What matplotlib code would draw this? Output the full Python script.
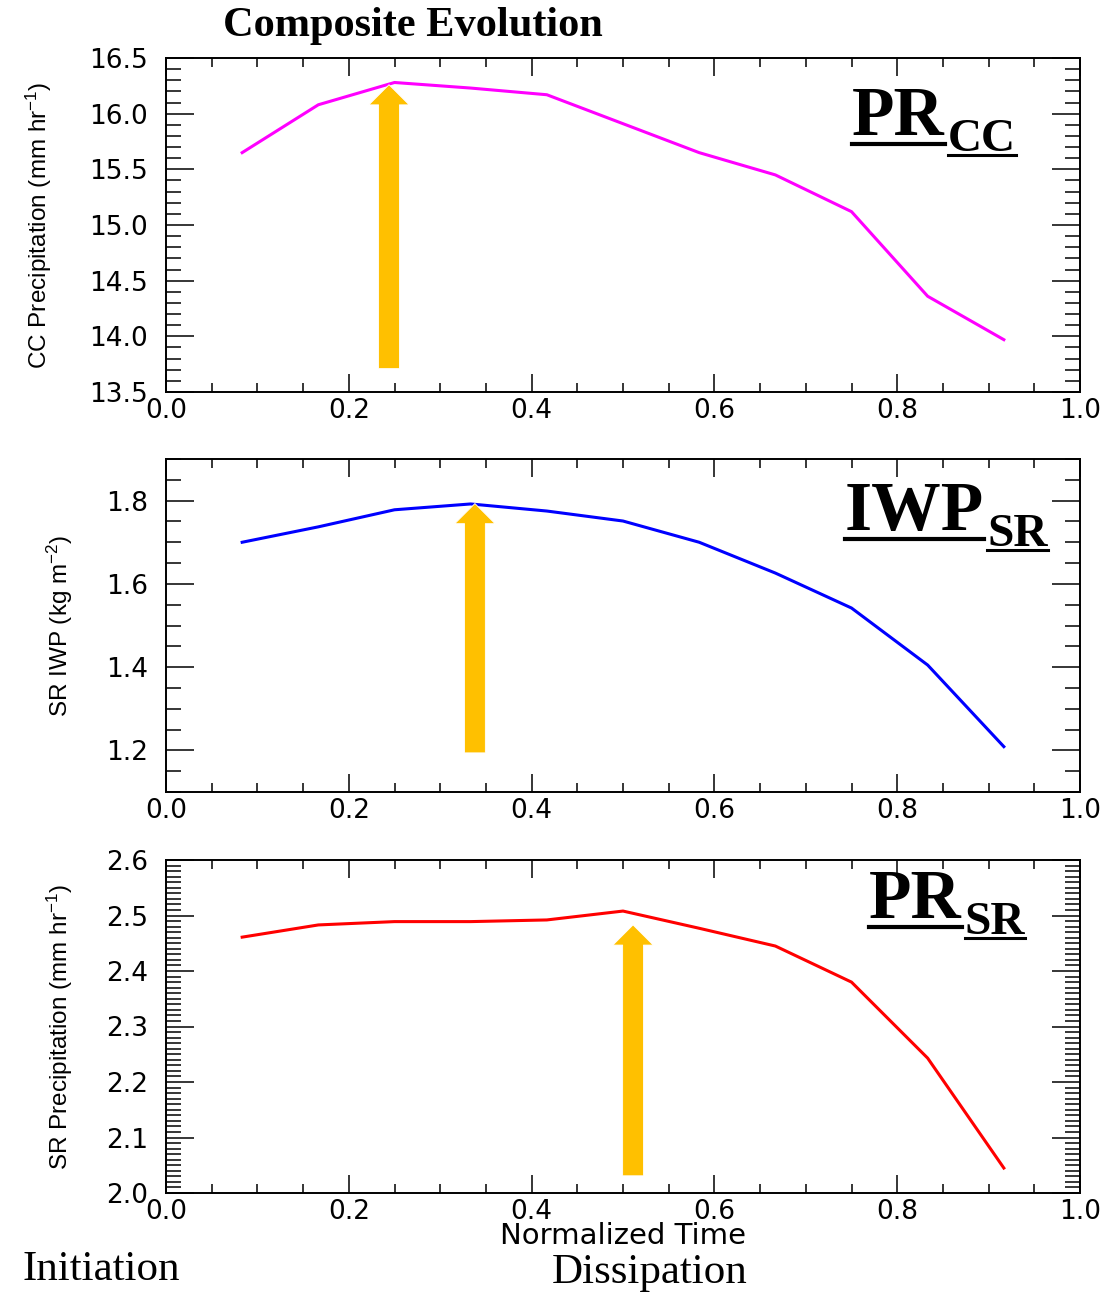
import numpy as np
import matplotlib
matplotlib.use('Agg')
import matplotlib.pyplot as plt
from matplotlib import font_manager
from matplotlib.ticker import MultipleLocator, FormatStrFormatter
from matplotlib.lines import Line2D

# data
time = np.arange(1, 12) / 12
pr_cc = [15.65, 16.08, 16.28, 16.23, 16.17, 15.91, 15.65, 15.45, 15.12, 14.36, 13.97]
iwp_sr = [1.700, 1.737, 1.778, 1.792, 1.775, 1.751, 1.700, 1.626, 1.542, 1.405, 1.209]
pr_sr = [2.461, 2.483, 2.489, 2.489, 2.492, 2.508, 2.477, 2.445, 2.380, 2.243, 2.045]

series = [pr_cc, iwp_sr, pr_sr]
colors = ['#FF00FF', '#0000FF', '#FF0000']
ylabels = ['CC Precipitation (mm hr$^{-1}$)', 'SR IWP (kg m$^{-2}$)', 'SR Precipitation (mm hr$^{-1}$)']
ylims = [(13.5, 16.5), (1.1, 1.9), (2.0, 2.6)]
ymajor = [0.5, 0.2, 0.1]
yminor = [0.1, 0.05, 0.01]
tags = [('PR', 'CC'), ('IWP', 'SR'), ('PR', 'SR')]

# orange arrows marking the peak (x, tip, tail)
arrow_x = [0.244, 0.338, 0.511]
arrow_tip = [16.26, 1.793, 2.483]
arrow_tail = [13.71, 1.194, 2.031]

W, H = 1109, 1293
DPI = 100

try:
    font_manager.findfont('Liberation Sans Narrow', fallback_to_default=False)
    label_font, label_size = 'Liberation Sans Narrow', 21
except ValueError:
    label_font, label_size = 'Liberation Sans', 17.5

plt.rcParams['mathtext.default'] = 'regular'
serif = 'Liberation Serif'

fig = plt.figure(figsize=(W / DPI, H / DPI), dpi=DPI)

# axes boxes in reference pixels: (top, bottom)
boxes = [(58, 392), (459, 792), (860, 1193)]
left, right = 166, 1080
label_x = [39, 60, 60]

axes = []
for i, (top, bot) in enumerate(boxes):
    ax = fig.add_axes([left / W, 1 - bot / H, (right - left) / W, (bot - top) / H])
    ax.plot(time, series[i], color=colors[i], lw=2.2)
    ax.annotate('', xy=(arrow_x[i], arrow_tip[i]), xytext=(arrow_x[i], arrow_tail[i]),
                arrowprops=dict(arrowstyle='simple,head_length=1.45,head_width=2.9,tail_width=1.5',
                                mutation_scale=10, facecolor='#FFC000', edgecolor='white',
                                lw=0.6, shrinkA=0, shrinkB=0))
    ax.set_xlim(0, 1)
    ax.set_ylim(*ylims[i])
    ax.xaxis.set_major_locator(MultipleLocator(0.2))
    ax.xaxis.set_minor_locator(MultipleLocator(0.05))
    ax.yaxis.set_major_locator(MultipleLocator(ymajor[i]))
    ax.yaxis.set_minor_locator(MultipleLocator(yminor[i]))
    ax.xaxis.set_major_formatter(FormatStrFormatter('%.1f'))
    ax.yaxis.set_major_formatter(FormatStrFormatter('%.1f'))
    ax.tick_params(which='both', direction='in', top=True, right=True, width=1.1,
                   labelsize=19, colors='black')
    ax.tick_params(axis='x', which='major', length=13, pad=4)
    ax.tick_params(axis='x', which='minor', length=6.5)
    ax.tick_params(axis='y', which='major', length=20, pad=13)
    ax.tick_params(axis='y', which='minor', length=10.5)
    for s in ax.spines.values():
        s.set_linewidth(1.4)
    ax.set_ylabel(ylabels[i], family=[label_font, 'DejaVu Sans'], fontsize=label_size,
                  va='center')
    ax.yaxis.set_label_coords((label_x[i] - left) / (right - left), 0.5)
    axes.append(ax)

axes[2].set_xlabel('Normalized Time', fontsize=21, va='center')
axes[2].xaxis.set_label_coords(0.5, -(1236 - 1193) / (1193 - 860))

fig.text(413 / W, 1 - 26 / H, 'Composite Evolution', ha='center', va='center',
         fontsize=30.5, fontweight='bold', family=serif)
fig.text(22 / W, 1 - 1270 / H, 'Initiation', ha='left', va='center', fontsize=31, family=serif)
fig.text(650 / W, 1 - 1273 / H, 'Dissipation', ha='center', va='center', fontsize=31, family=serif)

# underlined panel tags with subscript
renderer = fig.canvas.get_renderer()
tag_pos = [(852, 135), (845, 530), (869, 918)]
for (main, sub), (x, y) in zip(tags, tag_pos):
    t1 = fig.text(x / W, 1 - y / H, main, fontsize=50, fontweight='bold', family=serif,
                  va='baseline', ha='left')
    bb = t1.get_window_extent(renderer)
    yl = y + 9
    fig.add_artist(Line2D([bb.x0 / W, bb.x1 / W], [1 - yl / H, 1 - yl / H], color='black', lw=3))
    xs = bb.x1 + 3
    ys = y + 16
    t2 = fig.text(xs / W, 1 - ys / H, sub, fontsize=34, fontweight='bold', family=serif,
                  va='baseline', ha='left')
    bb2 = t2.get_window_extent(renderer)
    yl2 = ys + 4
    fig.add_artist(Line2D([bb2.x0 / W, bb2.x1 / W], [1 - yl2 / H, 1 - yl2 / H], color='black', lw=2.2))

fig.savefig('out.png', dpi=DPI)
